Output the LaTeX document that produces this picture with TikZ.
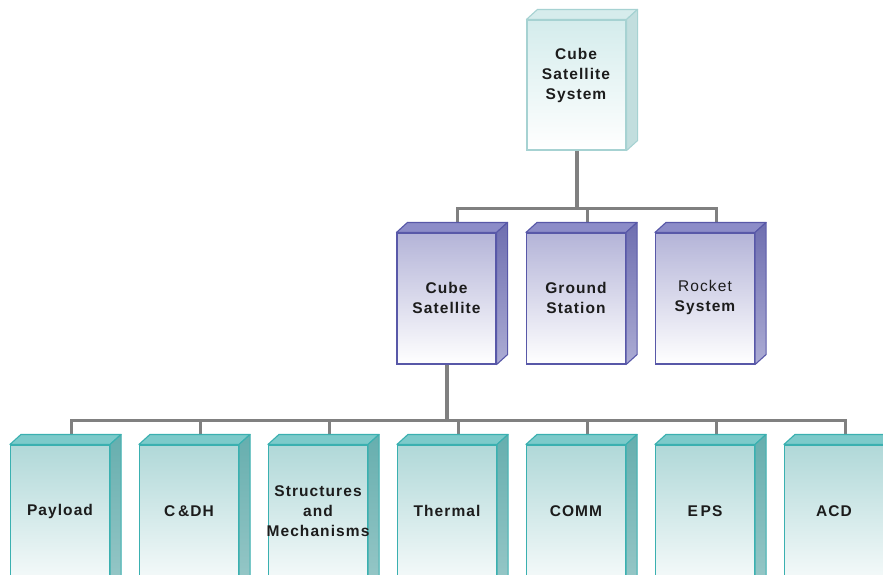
\documentclass[tikz,border=0pt]{standalone}
\usepackage{fontspec}
\setmainfont{Liberation Sans}[LetterSpace=7]
\definecolor{txt}{HTML}{1C1C1C}
\definecolor{conncol}{HTML}{808080}
\definecolor{sysline}{HTML}{A6D2D2}
\definecolor{systopc}{HTML}{D6ECEC}
\definecolor{sysfrontc}{HTML}{D4ECEC}
\definecolor{syssidec}{HTML}{C2DEDE}
\definecolor{subline}{HTML}{5858A8}
\definecolor{subtopc}{HTML}{8C8CC8}
\definecolor{subfrontc}{HTML}{B4B4D8}
\definecolor{subsidea}{HTML}{6E6EB0}
\definecolor{subsideb}{HTML}{ACACD4}
\definecolor{leafline}{HTML}{3AB0B0}
\definecolor{leaftopc}{HTML}{7CCACA}
\definecolor{leaffrontc}{HTML}{B0D8D8}
\definecolor{leafsidea}{HTML}{66AEAE}
\definecolor{leafsideb}{HTML}{9CCACA}
\tikzset{
  box/.style={rectangle, inner sep=0pt, minimum width=99, line width=1.1pt},
  sysfront/.style={box, draw=sysline, top color=sysfrontc, bottom color=white, minimum height=130},
  subfront/.style={box, draw=subline, top color=subfrontc, bottom color=white, minimum height=131},
  leaffront/.style={box, draw=leafline, top color=leaffrontc, bottom color=white, minimum height=155},
  sys top/.style={draw=sysline, fill=systopc, line width=1.1pt, line join=round},
  sys side/.style={draw=sysline, fill=syssidec, line width=1.1pt, line join=round},
  sub top/.style={draw=subline, fill=subtopc, line width=1.1pt, line join=round},
  sub side/.style={draw=subline, top color=subsidea, bottom color=subsideb, line width=1.1pt, line join=round},
  leaf top/.style={draw=leafline, fill=leaftopc, line width=1.1pt, line join=round},
  leaf side/.style={draw=leafline, top color=leafsidea, bottom color=leafsideb, line width=1.1pt, line join=round},
  lbl/.style={align=center, text=txt, inner sep=0pt, font=\bfseries\fontsize{15.5}{20}\selectfont},
  bus/.style={draw=conncol, line width=3pt},
  trunk/.style={draw=conncol, line width=4pt}
}
\newcommand\drawfaces[2]{%
  \path[#2 top] (#1.north west) -- ([shift={(11,-10)}]#1.north west) -- ([shift={(11,-10)}]#1.north east) -- (#1.north east) -- cycle;
  \path[#2 side] (#1.north east) -- ([shift={(11,-10)}]#1.north east) -- ([shift={(11,-10)}]#1.south east) -- (#1.south east) -- cycle;
}
\begin{document}
\begin{tikzpicture}[x=1pt,y=-1pt]
\clip (0,0) rectangle (883,574);
\fill[white] (0,0) rectangle (883,574);
% fronts
\node[sysfront] (sys) at (576.5,85) {};
\node[subfront] (cs) at (446.5,298.5) {};
\node[subfront] (gs) at (576,298.5) {};
\node[subfront] (rs) at (705,298.5) {};
\node[leaffront] (pl) at (60,522.5) {};
\node[leaffront] (cd) at (189,522.5) {};
\node[leaffront] (sm) at (318,522.5) {};
\node[leaffront] (th) at (447,522.5) {};
\node[leaffront] (cm) at (576,522.5) {};
\node[leaffront] (ep) at (705,522.5) {};
\node[leaffront] (ac) at (834,522.5) {};
% connectors
\coordinate (bus1) at (576.5,208);
\coordinate (bus2) at (446.5,420);
\draw[trunk] (sys.south) -- (bus1);
\foreach \n in {cs,gs,rs}{\draw[bus] (bus1) -| ([shift={(11,-10)}]\n.north);}
\draw[trunk] (cs.south) -- (bus2);
\foreach \n in {pl,cd,sm,th,cm,ep,ac}{\draw[bus] (bus2) -| ([shift={(11,-10)}]\n.north);}
% faces
\drawfaces{sys}{sys}
\foreach \n in {cs,gs,rs}{\drawfaces{\n}{sub}}
\foreach \n in {pl,cd,sm,th,cm,ep,ac}{\drawfaces{\n}{leaf}}
% labels
\node[lbl] (syst) at (576,75) {Cube\\Satellite\\System};
\node[lbl] (cst) at (446.5,297.5) {Cube\\Satellite};
\node[lbl] (gst) at (576,297.5) {Ground\\Station};
\node[lbl] (rst) at (705,297.5) {{\mdseries Rocket}\\System};
\node[lbl] (plt) at (60,511) {Payload};
\node[lbl] (cdt) at (189,511) {C\,\&DH};
\node[lbl] (smt) at (318,511) {Structures\\and\\Mechanisms};
\node[lbl] (tht) at (447,511) {Thermal};
\node[lbl] (cmt) at (576,511) {COMM};
\node[lbl] (ept) at (705,511) {E\,PS};
\node[lbl] (act) at (834,511) {ACD};
\end{tikzpicture}
\end{document}
